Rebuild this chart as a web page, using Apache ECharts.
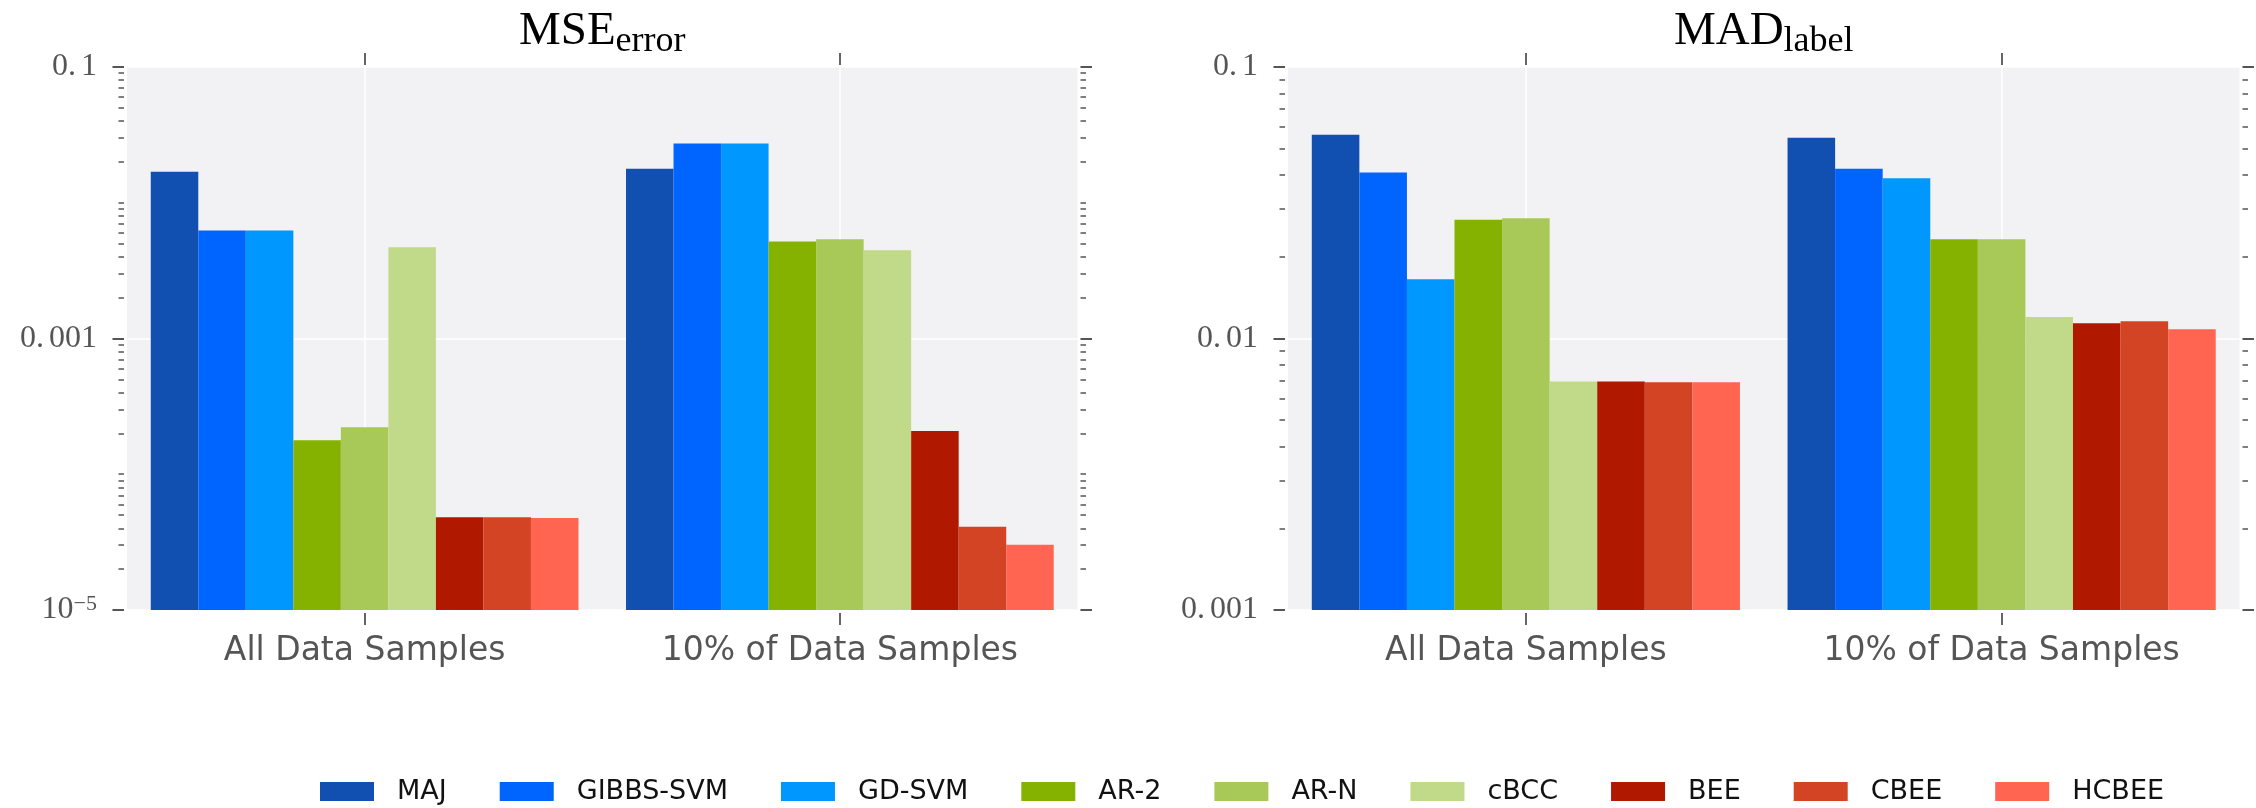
<!DOCTYPE html>
<html>
<head>
<meta charset="utf-8">
<script src="https://cdn.jsdelivr.net/npm/echarts@6/dist/echarts.min.js"></script>
<style>
html, body { margin: 0; padding: 0; background: #ffffff; }
#chart { width: 2256px; height: 808px; }
</style>
</head>
<body>
<div id="chart"></div>
<script>
// ---------------- data ----------------
const categories = ['All Data Samples', '10% of Data Samples'];
const methods = ['MAJ', 'GIBBS-SVM', 'GD-SVM', 'AR-2', 'AR-N', 'cBCC', 'BEE', 'CBEE', 'HCBEE'];
const methodColors = ['#1150b1', '#0064ff', '#0097ff', '#85b200', '#a8c858', '#c1da89', '#b01800', '#d34425', '#ff6550'];

// MSE_error, per method: [All Data Samples, 10% of Data Samples]
const mseAll = [0.0169, 0.00625, 0.00625, 0.000178, 0.000222, 0.0047, 0.0000483, 0.0000483, 0.0000476];
const mse10  = [0.0178, 0.0273, 0.0273, 0.00519, 0.00538, 0.00447, 0.000208, 0.0000410, 0.0000302];
// MAD_label
const madAll = [0.0563, 0.0409, 0.01653, 0.0274, 0.0277, 0.00695, 0.00695, 0.0069, 0.0069];
const mad10  = [0.0549, 0.0422, 0.0389, 0.0232, 0.0232, 0.0120, 0.01137, 0.01157, 0.01081];

const mseMajorTicks = [1e-5, 1e-3, 1e-1];
const mseTickLabels = ['10^-5', '0.001', '0.1'];
const mseMinorTicks = [2e-5, 3e-5, 4e-5, 5e-5, 6e-5, 7e-5, 8e-5, 9e-5, 1e-4,
                       2e-4, 3e-4, 4e-4, 5e-4, 6e-4, 7e-4, 8e-4, 9e-4,
                       2e-3, 3e-3, 4e-3, 5e-3, 6e-3, 7e-3, 8e-3, 9e-3, 1e-2,
                       2e-2, 3e-2, 4e-2, 5e-2, 6e-2, 7e-2, 8e-2, 9e-2];
const madMajorTicks = [1e-3, 1e-2, 1e-1];
const madTickLabels = ['0.001', '0.01', '0.1'];
const madMinorTicks = [2e-3, 3e-3, 4e-3, 5e-3, 6e-3, 7e-3, 8e-3, 9e-3,
                       2e-2, 3e-2, 4e-2, 5e-2, 6e-2, 7e-2, 8e-2, 9e-2];
const titleMain = ['MSE', 'MAD'];
const titleSub = ['error', 'label'];

// ---------------- helpers ----------------
const axisGrey = '#555555';
const serif = 'Liberation Serif';
const sans = 'DejaVu Sans';

function labelFor(v, ticks, labels) {
  let best = 0, bd = Infinity;
  ticks.forEach((t, i) => {
    const d = Math.abs(Math.log10(v) - Math.log10(t));
    if (d < bd) { bd = d; best = i; }
  });
  return labels[best];
}
function toRich(s) {
  if (s.indexOf('^') >= 0) {
    const parts = s.split('^');
    return '{b|' + parts[0] + '}{p|' + parts[1].replace('-', '\u2212') + '}';
  }
  const parts = s.split('.');
  return '{d|' + parts[0] + '.}{b|' + parts[1] + '}';
}
const yRich = {
  b: { fontFamily: serif, fontSize: 32, color: axisGrey, lineHeight: 34 },
  d: { fontFamily: serif, fontSize: 32, color: axisGrey, lineHeight: 34, padding: [0, 5, 0, 0] },
  p: { fontFamily: serif, fontSize: 22, color: axisGrey, lineHeight: 22, verticalAlign: 'top' }
};

function majorY(gi, pos, min, max, ticks, labels, withBars) {
  const ax = {
    type: 'log', logBase: 10, gridIndex: gi, position: pos, min: min, max: max, offset: 3,
    axisLine: { show: false },
    axisTick: { show: true, customValues: ticks, length: 11.5, lineStyle: { color: axisGrey, width: 2 } },
    axisLabel: { show: false },
    splitLine: { show: false },
    minorTick: { show: false }, minorSplitLine: { show: false }
  };
  if (withBars) ax.startValue = min;
  if (labels) {
    ax.axisLabel = {
      show: true, customValues: ticks, margin: 27,
      formatter: v => toRich(labelFor(v, ticks, labels)),
      rich: yRich
    };
    ax.splitLine = { show: true, customValues: ticks, lineStyle: { color: '#ffffff', width: 1.5 } };
  }
  return ax;
}
function minorY(gi, pos, min, max, ticks) {
  return {
    type: 'log', logBase: 10, gridIndex: gi, position: pos, min: min, max: max, offset: 3,
    axisLine: { show: false },
    axisTick: { show: true, customValues: ticks, length: 5.5, lineStyle: { color: axisGrey, width: 1.5 } },
    axisLabel: { show: false },
    splitLine: { show: false },
    minorTick: { show: false }, minorSplitLine: { show: false }
  };
}
function bottomX(gi) {
  return {
    type: 'category', gridIndex: gi, position: 'bottom', data: categories, offset: 3,
    axisLine: { show: false },
    axisTick: { show: true, alignWithLabel: true, interval: 0, length: 12, lineStyle: { color: '#666666', width: 2 } },
    axisLabel: { show: true, interval: 0, margin: 22, fontFamily: sans, fontSize: 33, color: axisGrey },
    splitLine: { show: true, interval: 0, alignWithLabel: true, lineStyle: { color: '#ffffff', width: 1.5 } }
  };
}
function topX(gi) {
  return {
    type: 'category', gridIndex: gi, position: 'top', data: categories, offset: 2,
    axisLine: { show: false },
    axisTick: { show: true, alignWithLabel: true, interval: 0, length: 12, lineStyle: { color: '#666666', width: 2 } },
    axisLabel: { show: false },
    splitLine: { show: false }
  };
}
function titleOf(i, cx) {
  return {
    text: '{m|' + titleMain[i] + '}{s|' + titleSub[i] + '}',
    left: cx, top: 4, textAlign: 'center', padding: 0,
    textStyle: {
      fontWeight: 'normal',
      rich: {
        m: { fontFamily: serif, fontWeight: 'normal', fontSize: 47, lineHeight: 56, color: '#000000' },
        s: { fontFamily: serif, fontWeight: 'normal', fontSize: 36, lineHeight: 34, color: '#000000', verticalAlign: 'bottom' }
      }
    }
  };
}

const series = [];
methods.forEach((m, i) => {
  series.push({
    type: 'bar', name: m, xAxisIndex: 0, yAxisIndex: 0,
    data: [mseAll[i], mse10[i]],
    itemStyle: { color: methodColors[i] },
    barGap: '0%', barCategoryGap: '10%'
  });
});
methods.forEach((m, i) => {
  series.push({
    type: 'bar', name: m, xAxisIndex: 2, yAxisIndex: 4,
    data: [madAll[i], mad10[i]],
    itemStyle: { color: methodColors[i] },
    barGap: '0%', barCategoryGap: '10%'
  });
});

const option = {
  animation: false,
  backgroundColor: '#ffffff',
  title: [titleOf(0, 602.25), titleOf(1, 1763.75)],
  legend: {
    data: methods, left: 320, top: 778, padding: 0, orient: 'horizontal',
    itemWidth: 54, itemHeight: 19, itemGap: 53, icon: 'rect', selectedMode: false,
    textStyle: { fontFamily: sans, fontSize: 27, color: '#111111', padding: [0, 0, 0, 18] }
  },
  grid: [
    { left: 127, top: 67, width: 950.5, height: 543, show: true, backgroundColor: '#f2f2f4', borderWidth: 0, containLabel: false, outerBoundsMode: 'none' },
    { left: 1288, top: 67, width: 951.5, height: 543, show: true, backgroundColor: '#f2f2f4', borderWidth: 0, containLabel: false, outerBoundsMode: 'none' }
  ],
  xAxis: [bottomX(0), topX(0), bottomX(1), topX(1)],
  yAxis: [
    majorY(0, 'left', 1e-5, 0.1, mseMajorTicks, mseTickLabels, true),
    minorY(0, 'left', 1e-5, 0.1, mseMinorTicks),
    majorY(0, 'right', 1e-5, 0.1, mseMajorTicks, null, false),
    minorY(0, 'right', 1e-5, 0.1, mseMinorTicks),
    majorY(1, 'left', 1e-3, 0.1, madMajorTicks, madTickLabels, true),
    minorY(1, 'left', 1e-3, 0.1, madMinorTicks),
    majorY(1, 'right', 1e-3, 0.1, madMajorTicks, null, false),
    minorY(1, 'right', 1e-3, 0.1, madMinorTicks)
  ],
  series: series
};

const chart = echarts.init(document.getElementById('chart'), null, { renderer: 'canvas' });
chart.setOption(option);
</script>
</body>
</html>
